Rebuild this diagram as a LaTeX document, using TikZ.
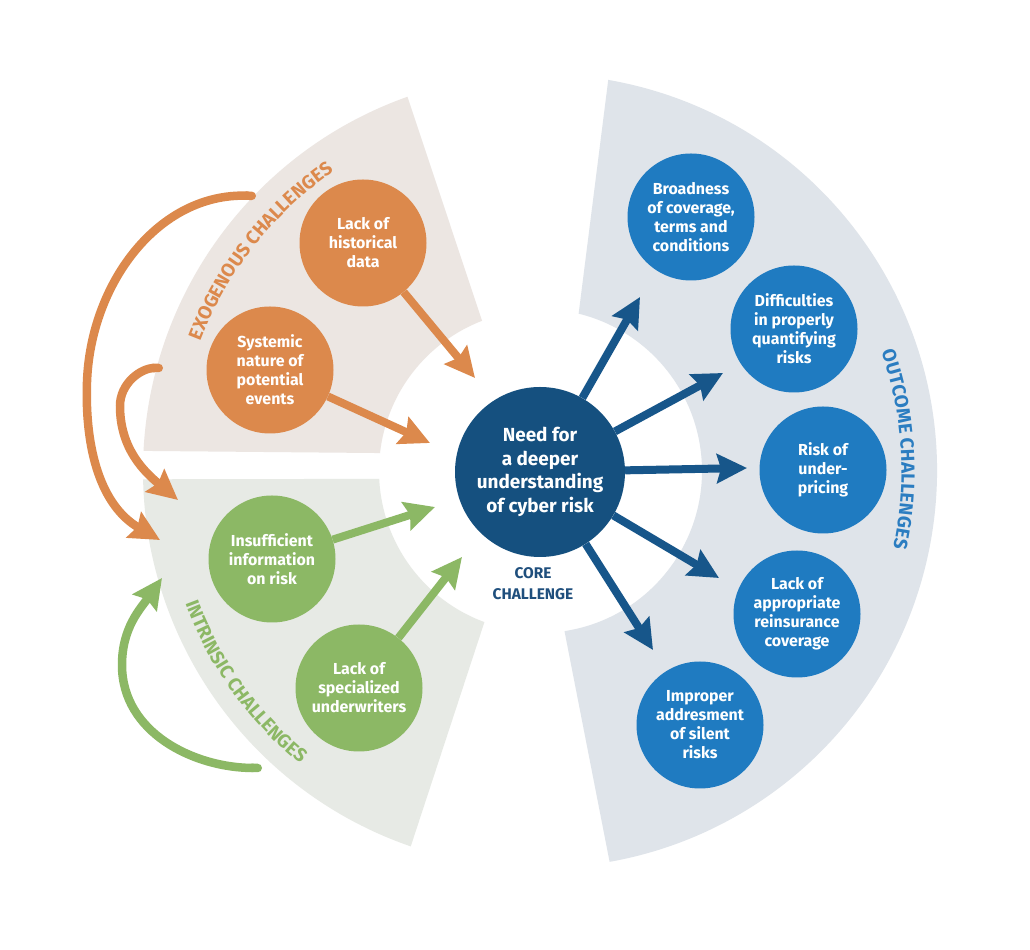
\documentclass[tikz,border=0pt]{standalone}
\usepackage{fontspec}
\setmainfont{Fira Sans}
\usetikzlibrary{arrows.meta,calc,decorations.text}
\definecolor{orng}{HTML}{DC894C}
\definecolor{grn}{HTML}{8CB865}
\definecolor{bub}{HTML}{1F7BC1}
\definecolor{corec}{HTML}{15507F}
\definecolor{arrblue}{HTML}{17568A}
\definecolor{exobg}{HTML}{ECE6E2}
\definecolor{intbg}{HTML}{E7EAE5}
\definecolor{outbg}{HTML}{DFE4EA}
\definecolor{labblue}{HTML}{2B7DC1}
\definecolor{coretext}{HTML}{1F4F7D}
\newcommand{\curvefont}{\fontsize{19}{21}\selectfont\bfseries}
\tikzset{
  bubble/.style={circle, minimum size=127bp, inner sep=0pt, text=white, align=center,
    font=\fontsize{16}{19}\selectfont\bfseries},
  orbub/.style={bubble, fill=orng},
  grbub/.style={bubble, fill=grn},
  blbub/.style={bubble, fill=bub},
  arrowhd/.style={-{Stealth[length=30bp,width=29bp,inset=4bp]}},
  orarr/.style={arrowhd, line width=8bp, draw=orng, color=orng},
  grarr/.style={arrowhd, line width=8bp, draw=grn, color=grn},
  blarr/.style={arrowhd, line width=8bp, draw=arrblue, color=arrblue},
  curvor/.style={orarr, line width=8.5bp, {Round Cap[]}-{Stealth[length=30bp,width=29bp,inset=4bp]}},
  curvgr/.style={grarr, line width=8.5bp, {Round Cap[]}-{Stealth[length=30bp,width=29bp,inset=4bp]}},
}
\begin{document}
\begin{tikzpicture}[x=1bp,y=1bp]
\fill[white] (0,0) rectangle (1030,950);
\useasboundingbox (0,0) rectangle (1030,950);
\coordinate (C) at (540,479);

% sectors
\fill[exobg] ($(C)+(109.5:397bp)$) arc[start angle=109.5, end angle=177.1, radius=397bp]
  -- ($(C)+(173.6:161bp)$) arc[start angle=173.6, end angle=111.1, radius=161bp] -- cycle;
\fill[intbg] ($(C)+(181.2:397bp)$) arc[start angle=181.2, end angle=251, radius=397bp]
  -- ($(C)+(249.8:161bp)$) arc[start angle=249.8, end angle=182.8, radius=161bp] -- cycle;
\fill[outbg] ($(C)+(80.1:397bp)$) arc[start angle=80.1, end angle=-79.9, radius=397bp]
  -- ($(C)+(-81.3:162bp)$) arc[start angle=-81.3, end angle=76.2, radius=162bp] -- cycle;

% curved labels
\path[decorate, decoration={text along path, text align=center,
  text={|\curvefont\color{orng}|EXOGENOUS CHALLENGES}}]
  ($(C)+(166.8:363.5bp)$) arc[start angle=166.8, end angle=116.8, radius=363.5bp];
\path[decorate, decoration={text along path, text align=center,
  text={|\curvefont\color{grn}|INTRINSIC CHALLENGES}}]
  ($(C)+(190.6:378.5bp)$) arc[start angle=190.6, end angle=240.6, radius=378.5bp];
\path[decorate, decoration={text along path, text align=center,
  text={|\curvefont\color{labblue}|OUTCOME CHALLENGES}}]
  ($(C)+(28.5:361.5bp)$) arc[start angle=28.5, end angle=-21.5, radius=361.5bp];

% nodes
\node[circle, fill=corec, minimum size=170bp, inner sep=0pt, text=white, align=center,
  font=\fontsize{19}{23.5}\selectfont\bfseries] (core) at (540,478)
  {Need for\\a deeper\\understanding\\of cyber risk};
\node[text=coretext, align=center, font=\fontsize{15.5}{21}\selectfont\bfseries] (corelab) at (533,366)
  {CORE\\CHALLENGE};

\node[orbub] (hist) at (363,707) {Lack of\\historical\\data};
\node[orbub] (sys) at (270,580) {Systemic\\nature of\\potential\\events};
\node[grbub] (insuf) at (272,391) {Insufficient\\information\\on risk};
\node[grbub] (spec) at (359,262) {Lack of\\specialized\\underwriters};
\node[blbub] (broad) at (691,733) {Broadness\\of coverage,\\terms and\\conditions};
\node[blbub] (diff) at (794,621) {Difficulties\\in properly\\quantifying\\risks};
\node[blbub] (under) at (823,480) {Risk of\\under-\\pricing};
\node[blbub] (reins) at (797,336) {Lack of\\appropriate\\reinsurance\\coverage};
\node[blbub] (silent) at (700,225) {Improper\\addresment\\of silent\\risks};

% arrow end points
\coordinate (thist) at (475,572);
\coordinate (tsys) at (430,507);
\coordinate (tinsuf) at (435,443);
\coordinate (tspec) at (462,393);
\coordinate (tbroad) at (640,653);
\coordinate (tdiff) at (723,577);
\coordinate (tunder) at (747,482);
\coordinate (treins) at (719,372);
\coordinate (tsilent) at (653,300);

\draw[orarr] (hist) -- (thist);
\draw[orarr] (sys) -- (tsys);
\draw[grarr] (insuf) -- (tinsuf);
\draw[grarr] (spec) -- (tspec);
\draw[blarr] (core) -- (tbroad);
\draw[blarr] (core) -- (tdiff);
\draw[blarr] (core) -- (tunder);
\draw[blarr] (core) -- (treins);
\draw[blarr] (core) -- (tsilent);

% curved arrows
\coordinate (s1) at (256,754);
\coordinate (m1) at (87,568);
\coordinate (e1) at (160,410);
\coordinate (s2) at (163,582);
\coordinate (m2) at (120,544);
\coordinate (e2) at (178,450);
\coordinate (s3) at (262,182);
\coordinate (m3) at (122,285);
\coordinate (e3) at (162,372);
\draw[curvor] (s1) to[out=178,in=88] (m1) to[out=-92,in=150] (e1);
\draw[curvor] (s2) to[out=180,in=90] (m2) to[out=-90,in=140] (e2);
\draw[curvgr] (s3) to[out=180,in=-90] (m3) to[out=90,in=-125] (e3);
\end{tikzpicture}
\end{document}
